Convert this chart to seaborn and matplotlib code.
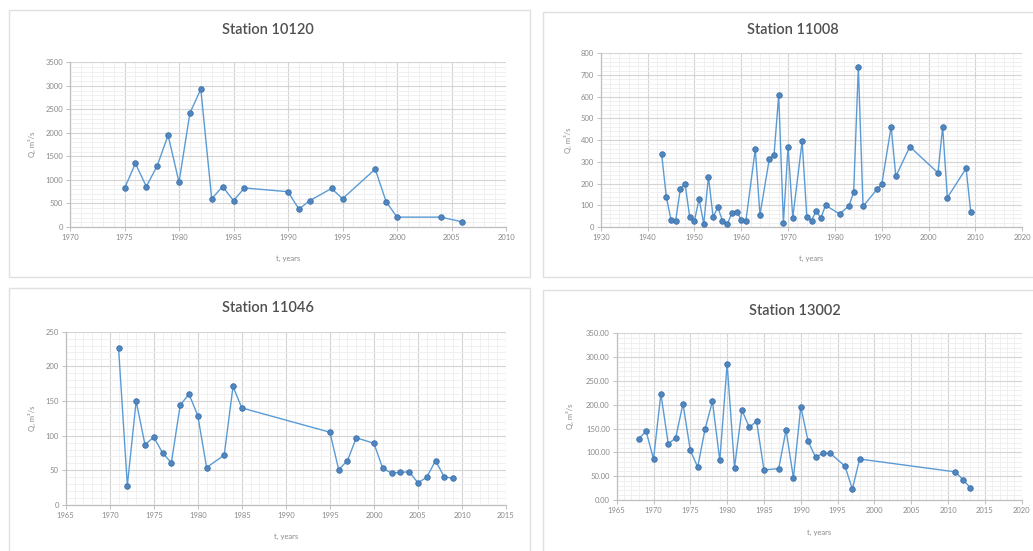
import matplotlib
matplotlib.use("Agg")
import matplotlib.pyplot as plt
from matplotlib.patches import Rectangle
from matplotlib.ticker import MultipleLocator, FormatStrFormatter
import seaborn as sns
import pandas as pd

# Station 10120
years_10120 = [1975, 1976, 1977, 1978, 1979, 1980, 1981, 1982, 1983, 1984, 1985, 1986,
               1990, 1991, 1992, 1994, 1995, 1998, 1999, 2000, 2004, 2006]
q_10120 = [820, 1350, 860, 1300, 1950, 950, 2420, 2930, 600, 860, 560, 830,
           750, 380, 560, 820, 600, 1230, 540, 210, 210, 110]

# Station 11008
years_11008 = [1943, 1944, 1945, 1946, 1947, 1948, 1949, 1950, 1951, 1952, 1953, 1954,
               1955, 1956, 1957, 1958, 1959, 1960, 1961, 1963, 1964, 1966, 1967, 1968,
               1969, 1970, 1971, 1973, 1974, 1975, 1976, 1977, 1978, 1981, 1983, 1984,
               1985, 1986, 1989, 1990, 1992, 1993, 1996, 2002, 2003, 2004, 2008, 2009]
q_11008 = [337, 140, 34, 29, 175, 200, 46, 28, 129, 14, 232, 45,
           91, 28, 12, 64, 71, 34, 29, 359, 55, 315, 332, 607,
           20, 370, 43, 395, 46, 29, 75, 41, 100, 60, 97, 161,
           737, 95, 174, 197, 462, 233, 370, 249, 462, 135, 270, 68]

# Station 11046
years_11046 = [1971, 1972, 1973, 1974, 1975, 1976, 1977, 1978, 1979, 1980, 1981, 1983,
               1984, 1985, 1995, 1996, 1997, 1998, 2000, 2001, 2002, 2003, 2004, 2005,
               2006, 2007, 2008, 2009]
q_11046 = [227, 28, 150, 87, 98, 75, 61, 144, 160, 129, 54, 72,
           171, 140, 105, 51, 64, 97, 89, 53, 46, 47, 48, 32,
           40, 64, 40, 39]

# Station 13002
years_13002 = [1968, 1969, 1970, 1971, 1972, 1973, 1974, 1975, 1976, 1977, 1978, 1979,
               1980, 1981, 1982, 1983, 1984, 1985, 1987, 1988, 1989, 1990, 1991, 1992,
               1993, 1994, 1996, 1997, 1998, 2011, 2012, 2013]
q_13002 = [129, 144, 86, 223, 118, 130, 202, 104, 69, 149, 207, 83,
           286, 68, 189, 153, 165, 63, 66, 147, 46, 196, 123, 90,
           98, 98, 71, 23, 86, 59, 43, 26]

titles = ["Station 10120", "Station 11008", "Station 11046", "Station 13002"]
x_label = "t, years"
y_label = "Q, m³/s"

sns.set_theme(style="white")
plt.rcParams["font.family"] = ["Lato", "DejaVu Sans"]

W, H = 1033, 551
fig = plt.figure(figsize=(W / 100, H / 100), dpi=100)
fig.patch.set_facecolor("white")


def px_rect(x0, y0, x1, y1):
    return [x0 / W, 1 - y1 / H, (x1 - x0) / W, (y1 - y0) / H]


# chart frames
for (x0, y0, x1, y1) in [(9, 10, 530, 277), (543, 12, 1040, 277),
                         (9, 288, 530, 560), (543, 290, 1040, 560)]:
    fig.patches.append(Rectangle((x0 / W, 1 - y1 / H), (x1 - x0) / W, (y1 - y0) / H,
                                 transform=fig.transFigure, fill=False,
                                 edgecolor="#e0e0e0", lw=1.0))

panels = [
    dict(years=years_10120, q=q_10120, rect=(70, 62.3, 506, 227),
         xlim=(1970, 2010), xmaj=5, xmin=1, ylim=(0, 3500), ymaj=500, ymin=100,
         fmt="%d", title_xy=(268, 30), xl_y=258, yl_x=32),
    dict(years=years_11008, q=q_11008, rect=(600.7, 53.3, 1022.3, 227),
         xlim=(1930, 2020), xmaj=10, xmin=2, ylim=(0, 800), ymaj=100, ymin=20,
         fmt="%d", title_xy=(793, 30), xl_y=258, yl_x=568),
    dict(years=years_11046, q=q_11046, rect=(65.7, 331.7, 506, 505),
         xlim=(1965, 2015), xmaj=5, xmin=1, ylim=(0, 250), ymaj=50, ymin=10,
         fmt="%d", title_xy=(268, 308), xl_y=537, yl_x=32),
    dict(years=years_13002, q=q_13002, rect=(616.7, 333.3, 1021.7, 500),
         xlim=(1965, 2020), xmaj=5, xmin=1, ylim=(0, 350), ymaj=50, ymin=10,
         fmt="%.2f", title_xy=(795, 311), xl_y=532, yl_x=570),
]

line_color = "#5b9bd5"
tick_color = "#8a8a8a"

for p, title in zip(panels, titles):
    ax = fig.add_axes(px_rect(*p["rect"]))
    df = pd.DataFrame({"year": p["years"], "Q": p["q"]})
    sns.lineplot(data=df, x="year", y="Q", ax=ax, color=line_color, lw=1.0,
                 marker="o", markersize=4.0, markerfacecolor="#4f86c0",
                 markeredgecolor="#3f72aa", markeredgewidth=0.6, zorder=3)
    ax.set_xlim(*p["xlim"])
    ax.set_ylim(*p["ylim"])
    ax.xaxis.set_major_locator(MultipleLocator(p["xmaj"]))
    ax.xaxis.set_minor_locator(MultipleLocator(p["xmin"]))
    ax.yaxis.set_major_locator(MultipleLocator(p["ymaj"]))
    ax.yaxis.set_minor_locator(MultipleLocator(p["ymin"]))
    ax.yaxis.set_major_formatter(FormatStrFormatter(p["fmt"]))
    ax.grid(which="major", color="#d4d4d4", lw=0.8)
    ax.grid(which="minor", color="#eeeeee", lw=0.6)
    ax.set_axisbelow(True)
    for side in ("top", "right"):
        ax.spines[side].set_visible(False)
    for side in ("left", "bottom"):
        ax.spines[side].set_color("#bfbfbf")
        ax.spines[side].set_linewidth(0.9)
    ax.tick_params(which="major", direction="out", length=3, width=0.7,
                   color="#bfbfbf", labelsize=5.5, labelcolor=tick_color, pad=2,
                   left=True, bottom=True)
    ax.tick_params(which="minor", length=0)
    ax.set_xlabel("")
    ax.set_ylabel("")
    tx, ty = p["title_xy"]
    fig.text(tx / W, 1 - ty / H, title, ha="center", va="center",
             fontsize=10.5, fontweight="semibold", color="#505050")
    cx = (p["rect"][0] + p["rect"][2]) / 2
    fig.text(cx / W, 1 - p["xl_y"] / H, x_label, ha="center", va="center",
             fontsize=5.5, color=tick_color)
    cy = (p["rect"][1] + p["rect"][3]) / 2
    fig.text(p["yl_x"] / W, 1 - cy / H, y_label, ha="center", va="center",
             rotation=90, fontsize=5.5, color=tick_color)

fig.savefig("out.png", dpi=100, facecolor="white")
